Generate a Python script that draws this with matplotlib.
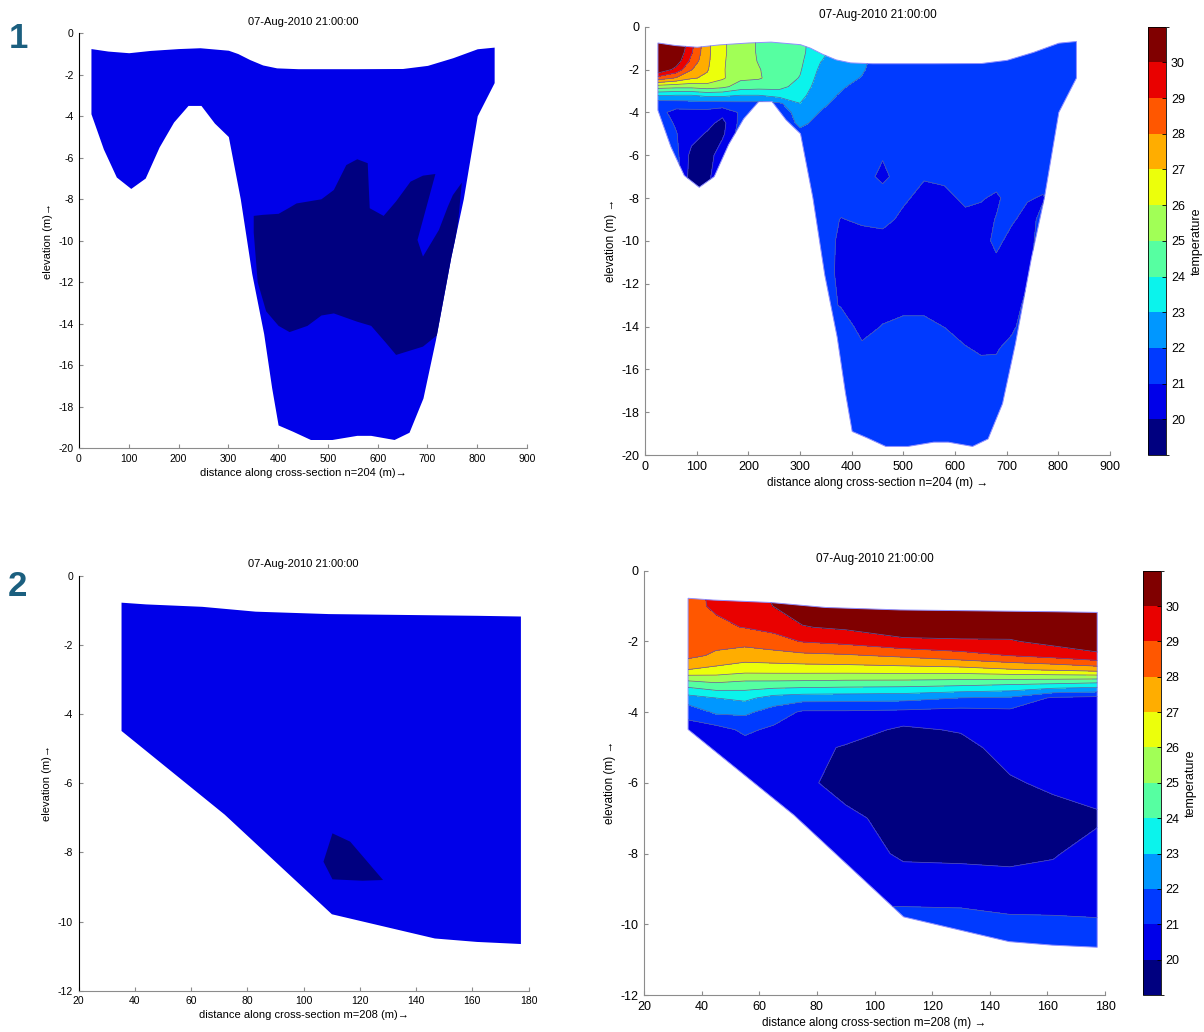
import numpy as np
import matplotlib.pyplot as plt
from matplotlib.colors import ListedColormap, BoundaryNorm
from matplotlib.patches import Polygon
import matplotlib as mpl

plt.rcParams['font.family'] = ['Liberation Sans', 'DejaVu Sans']
plt.rcParams['axes.unicode_minus'] = False

title = '07-Aug-2010 21:00:00'

# temperature classes (colorbar)
temp_levels = [19, 20, 21, 22, 23, 24, 25, 26, 27, 28, 29, 30, 31]
cbar_ticks = [20, 21, 22, 23, 24, 25, 26, 27, 28, 29, 30]

# ---------------- cross-section n=204 ----------------
sec1_top_x = [25, 59, 101, 144, 201, 244, 301, 320, 344, 370, 398, 441, 559, 651, 701, 752, 801, 835]
sec1_top_z = [-0.76, -0.88, -0.96, -0.85, -0.76, -0.72, -0.84, -1.0, -1.29, -1.55, -1.69, -1.73, -1.73,
              -1.72, -1.57, -1.2, -0.77, -0.69]
sec1_bot_x = [25, 50, 76, 105, 134, 162, 191, 220, 246, 273, 301, 325, 348, 372, 388, 401, 430, 466, 509,
              559, 587, 634, 664, 692, 717, 748, 773, 801, 835]
sec1_bot_z = [-3.9, -5.6, -6.95, -7.5, -7.0, -5.5, -4.3, -3.5, -3.5, -4.35, -5.0, -8.0, -11.6, -14.5, -17.1,
              -18.9, -19.2, -19.6, -19.6, -19.4, -19.4, -19.6, -19.25, -17.6, -14.8, -10.8, -8.0, -4.0, -2.4]

sec1_x = [25, 60, 90, 120, 150, 185, 220, 260, 300, 340, 380, 420, 460, 500, 540, 580, 620, 650, 680, 710,
          740, 770, 800, 835]
sec1_z = [0, -1.2, -1.6, -2.0, -2.4, -2.8, -3.2, -3.6, -4.0, -4.5, -5, -6, -7, -8, -9, -10, -11.5, -13, -14,
          -15, -16.5, -20]
# one temperature profile per column of sec1_x, values at the depths sec1_z
sec1_temp = [
    [31.0, 31.0, 31.0, 30.95, 28.6, 25.5, 23.1, 21.36, 21.3, 21.5, 21.5, 21.5, 21.5, 21.5, 21.5, 21.5, 21.5, 21.5, 21.5, 21.5, 21.5, 21.5],
    [31.0, 31.0, 30.6, 29.69, 27.9, 25.33, 23.0, 21.45, 20.7, 20.9, 21.05, 21.3, 21.5, 21.5, 21.5, 21.5, 21.5, 21.5, 21.5, 21.5, 21.5, 21.5],
    [29.9, 29.1, 28.7, 28.05, 27.12, 25.33, 23.0, 21.53, 20.7, 20.6, 20.4, 19.7, 19.5, 19.5, 21.5, 21.5, 21.5, 21.5, 21.5, 21.5, 21.5, 21.5],
    [27.3, 27.25, 27.2, 27.1, 26.8, 25.56, 23.25, 21.57, 20.7, 20.3, 19.9, 19.5, 19.5, 19.5, 21.5, 21.5, 21.5, 21.5, 21.5, 21.5, 21.5, 21.5],
    [26.15, 26.15, 26.12, 26.1, 26.15, 25.26, 23.25, 21.6, 20.3, 19.7, 19.8, 20.6, 21.5, 21.5, 21.5, 21.5, 21.5, 21.5, 21.5, 21.5, 21.5, 21.5],
    [25.5, 25.5, 25.45, 25.4, 25.2, 24.53, 23.0, 21.7, 21.15, 21.3, 21.5, 21.5, 21.5, 21.5, 21.5, 21.5, 21.5, 21.5, 21.5, 21.5, 21.5, 21.5],
    [24.9, 24.9, 24.95, 25.05, 25.1, 24.4, 23.0, 21.7, 21.5, 21.5, 21.5, 21.5, 21.5, 21.5, 21.5, 21.5, 21.5, 21.5, 21.5, 21.5, 21.5, 21.5],
    [24.6, 24.6, 24.6, 24.55, 24.5, 24.3, 23.4, 21.8, 21.2, 21.5, 21.5, 21.5, 21.5, 21.5, 21.5, 21.5, 21.5, 21.5, 21.5, 21.5, 21.5, 21.5],
    [24.4, 24.3, 24.2, 24.1, 23.95, 23.6, 23.3, 22.98, 22.6, 22.15, 21.8, 21.5, 21.5, 21.5, 21.5, 21.5, 21.5, 21.5, 21.5, 21.5, 21.5, 21.5],
    [23.3, 23.2, 23.03, 22.8, 22.6, 22.5, 22.35, 22.2, 21.95, 21.8, 21.6, 21.5, 21.5, 21.5, 21.5, 21.5, 21.5, 21.5, 21.5, 21.5, 21.5, 21.5],
    [22.6, 22.6, 22.5, 22.4, 22.3, 22.1, 21.9, 21.7, 21.6, 21.5, 21.5, 21.5, 21.5, 21.5, 20.95, 20.8, 20.75, 20.9, 21.6, 21.5, 21.5, 21.5],
    [22.3, 22.3, 22.2, 22.1, 21.95, 21.7, 21.6, 21.5, 21.5, 21.5, 21.5, 21.5, 21.5, 21.5, 21.2, 20.5, 20.5, 20.5, 20.6, 21.2, 21.5, 21.5],
    [21.5, 21.5, 21.5, 21.5, 21.5, 21.5, 21.5, 21.5, 21.5, 21.5, 21.5, 21.1, 20.7, 21.6, 21.4, 20.5, 20.4, 20.6, 21.05, 21.5, 21.5, 21.5],
    [21.5, 21.5, 21.5, 21.5, 21.5, 21.5, 21.5, 21.5, 21.5, 21.5, 21.5, 21.5, 21.6, 21.2, 20.7, 20.5, 20.5, 20.8, 21.2, 21.5, 21.5, 21.5],
    [21.5, 21.5, 21.5, 21.5, 21.5, 21.5, 21.5, 21.5, 21.5, 21.5, 21.5, 21.5, 21.1, 20.6, 20.5, 20.5, 20.5, 20.8, 21.2, 21.5, 21.5, 21.5],
    [21.5, 21.5, 21.5, 21.5, 21.5, 21.5, 21.5, 21.5, 21.5, 21.5, 21.5, 21.5, 21.3, 20.6, 20.5, 20.5, 20.5, 20.6, 20.98, 21.4, 21.5, 21.5],
    [21.5, 21.5, 21.5, 21.5, 21.5, 21.5, 21.5, 21.5, 21.5, 21.5, 21.5, 21.5, 21.5, 21.3, 20.6, 20.5, 20.5, 20.5, 20.6, 21.05, 21.5, 21.5],
    [21.5, 21.5, 21.5, 21.5, 21.5, 21.5, 21.5, 21.5, 21.5, 21.5, 21.5, 21.5, 21.5, 21.1, 20.6, 20.5, 20.5, 20.5, 20.5, 20.85, 21.5, 21.5],
    [21.5, 21.5, 21.5, 21.5, 21.5, 21.5, 21.5, 21.5, 21.5, 21.5, 21.5, 21.5, 21.5, 20.8, 21.05, 21.3, 20.5, 20.5, 20.5, 20.9, 21.4, 21.5],
    [21.5, 21.5, 21.5, 21.5, 21.5, 21.5, 21.5, 21.5, 21.5, 21.5, 21.5, 21.5, 21.5, 21.5, 21.15, 20.6, 20.5, 20.5, 20.8, 21.3, 21.5, 21.5],
    [21.5, 21.5, 21.5, 21.5, 21.5, 21.5, 21.5, 21.5, 21.5, 21.5, 21.5, 21.5, 21.5, 21.1, 20.6, 20.6, 20.8, 21.3, 21.5, 21.5, 21.5, 21.5],
    [21.5, 21.5, 21.5, 21.5, 21.5, 21.5, 21.5, 21.5, 21.5, 21.5, 21.5, 21.5, 21.5, 20.9, 21.3, 21.5, 21.5, 21.5, 21.5, 21.5, 21.5, 21.5],
    [21.5, 21.5, 21.5, 21.5, 21.5, 21.5, 21.5, 21.5, 21.5, 21.5, 21.5, 21.5, 21.5, 21.5, 21.5, 21.5, 21.5, 21.5, 21.5, 21.5, 21.5, 21.5],
    [21.5, 21.5, 21.5, 21.5, 21.5, 21.5, 21.5, 21.5, 21.5, 21.5, 21.5, 21.5, 21.5, 21.5, 21.5, 21.5, 21.5, 21.5, 21.5, 21.5, 21.5, 21.5],
]
# cold patch shown in the left-hand panel
sec1_cold_x = [351, 369, 401, 423, 437, 487, 512, 537, 559, 580, 584, 612, 637, 666, 691, 716, 680, 691, 723, 741,
               751, 769, 762, 750, 735, 722, 691, 637, 616, 587, 559, 512, 487, 459, 423, 401, 376, 359, 351]
sec1_cold_z = [-8.8, -8.75, -8.7, -8.4, -8.2, -8.0, -7.55, -6.35, -6.07, -6.26, -8.43, -8.8, -8.1, -7.15, -6.86,
               -6.78, -9.96, -10.76, -9.48, -8.35, -7.8, -7.2, -9.0, -11.0, -13.0, -14.5, -15.1, -15.5, -14.9,
               -14.1, -13.9, -13.5, -13.6, -14.1, -14.4, -14.1, -13.4, -12.0, -9.6]

# ---------------- cross-section m=208 ----------------
sec2_top_x = [35.3, 44, 64, 83, 109, 141, 162, 177.3]
sec2_top_z = [-0.78, -0.83, -0.9, -1.04, -1.11, -1.14, -1.16, -1.18]
sec2_bot_x = [35.3, 72, 110.1, 146.7, 161.7, 177.3]
sec2_bot_z = [-4.49, -6.91, -9.79, -10.49, -10.59, -10.65]

sec2_x = [35, 45, 55, 65, 75, 90, 110, 130, 147, 162, 178]
sec2_z = [0, -1.0, -1.6, -2.0, -2.4, -2.8, -3.2, -3.6, -4.0, -4.5, -5, -6, -7, -8, -9, -9.7, -10.2, -11]
sec2_temp = [
    [28.8, 28.8, 28.85, 28.75, 28.3, 27.0, 24.45, 22.6, 21.3, 20.6, 20.5, 20.5, 20.5, 20.5, 20.5, 20.5, 20.5, 20.5],
    [29.15, 29.1, 28.85, 28.32, 27.82, 26.71, 24.85, 23.0, 22.17, 20.6, 20.55, 20.5, 20.5, 20.5, 20.5, 20.5, 20.5, 20.5],
    [29.7, 29.45, 29.03, 28.31, 27.51, 26.43, 24.64, 23.24, 22.2, 21.19, 20.6, 20.5, 20.5, 20.5, 20.5, 20.5, 20.5, 20.5],
    [30.4, 30.02, 29.29, 28.6, 27.62, 26.46, 24.62, 22.63, 21.56, 20.8, 20.6, 20.5, 20.5, 20.5, 20.5, 20.5, 20.5, 20.5],
    [30.8, 30.45, 29.95, 29.05, 27.76, 26.48, 24.57, 22.43, 20.85, 20.6, 20.35, 20.3, 20.5, 20.5, 20.5, 20.5, 20.5, 20.5],
    [31.0, 30.6, 30.15, 29.3, 27.88, 26.5, 24.48, 22.4, 20.85, 20.5, 19.9, 19.5, 20.3, 20.5, 20.5, 21.2, 21.5, 21.5],
    [31.2, 30.9, 30.4, 29.85, 28.18, 26.56, 24.43, 22.33, 20.75, 19.8, 19.5, 19.5, 19.5, 19.85, 20.5, 21.2, 21.5, 21.5],
    [31.3, 31.0, 30.5, 29.89, 28.63, 26.62, 24.3, 21.98, 20.6, 20.1, 19.6, 19.5, 19.5, 19.8, 20.5, 21.15, 21.5, 21.5],
    [31.3, 31.0, 30.5, 29.91, 29.02, 26.92, 24.12, 21.86, 20.75, 20.6, 20.5, 19.85, 19.5, 19.7, 20.5, 20.98, 21.5, 21.5],
    [31.4, 31.0, 30.55, 30.3, 29.35, 27.12, 23.98, 20.85, 20.6, 20.55, 20.5, 20.25, 19.5, 19.9, 20.5, 20.95, 21.5, 21.5],
    [31.5, 31.2, 30.8, 30.45, 29.86, 27.4, 23.73, 20.7, 20.6, 20.55, 20.5, 20.5, 19.85, 20.5, 20.55, 20.85, 21.5, 21.5],
]
sec2_cold_x = [110.3, 116.6, 128.3, 121, 110.3, 107.1]
sec2_cold_z = [-7.45, -7.69, -8.8, -8.82, -8.78, -8.27]

jet12 = plt.get_cmap('jet', 12)
band_colors = [jet12(i) for i in range(12)]
band_cmap = ListedColormap(band_colors)
band_norm = BoundaryNorm(temp_levels, 12)
fill_levels = [0] + temp_levels[1:-1] + [50]


def outline(top_x, top_z, bot_x, bot_z, ax):
    verts = list(zip(top_x, top_z)) + list(zip(bot_x[::-1], bot_z[::-1]))
    return Polygon(verts, closed=True, transform=ax.transData)


def style(ax, xlim, xticks, ylim, yticks, fs, left_col):
    ax.set_xlim(xlim)
    ax.set_ylim(ylim)
    ax.set_xticks(xticks)
    ax.set_yticks(yticks)
    ax.spines['top'].set_visible(False)
    ax.spines['right'].set_visible(False)
    ax.spines['bottom'].set_color('#8c8c8c')
    ax.spines['left'].set_color(left_col)
    ax.tick_params(direction='in', length=3, width=0.8, color='#8c8c8c', labelsize=fs, pad=4)


def left_panel(rect, top_x, top_z, bot_x, bot_z, cold_x, cold_z, xlim, xticks, ylim, yticks, xlabel):
    ax = fig.add_axes(rect)
    ax.fill(top_x + bot_x[::-1], top_z + bot_z[::-1], color=band_colors[1], lw=0)
    p = ax.fill(cold_x, cold_z, color=band_colors[0], lw=0)[0]
    p.set_clip_path(outline(top_x, top_z, bot_x, bot_z, ax))
    style(ax, xlim, xticks, ylim, yticks, 7.5, 'black')
    ax.set_title(title, fontsize=8, pad=6)
    ax.set_xlabel(xlabel, fontsize=8, labelpad=3)
    ax.set_ylabel('elevation (m)\u2192', fontsize=8, labelpad=4)
    return ax


def right_panel(rect, cbar_rect, top_x, top_z, bot_x, bot_z, xs, zs, temp, xlim, xticks, ylim, yticks, xlabel):
    ax = fig.add_axes(rect)
    X, Z = np.meshgrid(xs, zs)
    T = np.array(temp).T
    clip = outline(top_x, top_z, bot_x, bot_z, ax)
    cs = ax.contourf(X, Z, T, levels=fill_levels, colors=band_colors)
    cs.set_clip_path(clip)
    cl = ax.contour(X, Z, T, levels=temp_levels[1:-1], colors='#5a5aa8', linewidths=0.5)
    cl.set_clip_path(clip)
    ax.add_patch(Polygon(clip.get_xy(), closed=True, fill=False, ec='#8f8fff', lw=0.7))
    style(ax, xlim, xticks, ylim, yticks, 9, '#8c8c8c')
    ax.set_title(title, fontsize=8.5, pad=6)
    ax.set_xlabel(xlabel, fontsize=8.5, labelpad=3)
    ax.set_ylabel('elevation (m) \u2192', fontsize=8.5, labelpad=3)

    cax = fig.add_axes(cbar_rect)
    cb = mpl.colorbar.ColorbarBase(cax, cmap=band_cmap, norm=band_norm, ticks=cbar_ticks)
    cb.outline.set_linewidth(0.6)
    cax.tick_params(direction='in', length=3, width=0.6, labelsize=9)
    cb.set_label('temperature', fontsize=9, labelpad=4)
    return ax


W, H = 1204.0, 1032.0
fig = plt.figure(figsize=(W / 100, H / 100), dpi=100)

left_panel([79 / W, 1 - 448.3 / H, 448 / W, 415 / H],
           sec1_top_x, sec1_top_z, sec1_bot_x, sec1_bot_z, sec1_cold_x, sec1_cold_z,
           (0, 900), range(0, 901, 100), (-20, 0), range(-20, 1, 2),
           'distance along cross-section n=204 (m)\u2192')
right_panel([645 / W, 1 - 455 / H, 465 / W, 428.3 / H], [1148 / W, 1 - 455 / H, 18 / W, 428.3 / H],
            sec1_top_x, sec1_top_z, sec1_bot_x, sec1_bot_z, sec1_x, sec1_z, sec1_temp,
            (0, 900), range(0, 901, 100), (-20, 0), range(-20, 1, 2),
            'distance along cross-section n=204 (m) \u2192')

left_panel([78.5 / W, 1 - 990.7 / H, 450 / W, 415 / H],
           sec2_top_x, sec2_top_z, sec2_bot_x, sec2_bot_z, sec2_cold_x, sec2_cold_z,
           (20, 180), range(20, 181, 20), (-12, 0), range(-12, 1, 2),
           'distance along cross-section m=208 (m)\u2192')
right_panel([644 / W, 1 - 995 / H, 461 / W, 424.3 / H], [1143 / W, 1 - 995 / H, 17.5 / W, 424.3 / H],
            sec2_top_x, sec2_top_z, sec2_bot_x, sec2_bot_z, sec2_x, sec2_z, sec2_temp,
            (20, 180), range(20, 181, 20), (-12, 0), range(-12, 1, 2),
            'distance along cross-section m=208 (m) \u2192')

fig.text(18 / W, 1 - 38 / H, '1', ha='center', va='center', fontsize=25, fontweight='bold', color='#1b5f7f')
fig.text(17 / W, 1 - 587 / H, '2', ha='center', va='center', fontsize=25, fontweight='bold', color='#1b5f7f')

fig.savefig('out.png', dpi=100)
